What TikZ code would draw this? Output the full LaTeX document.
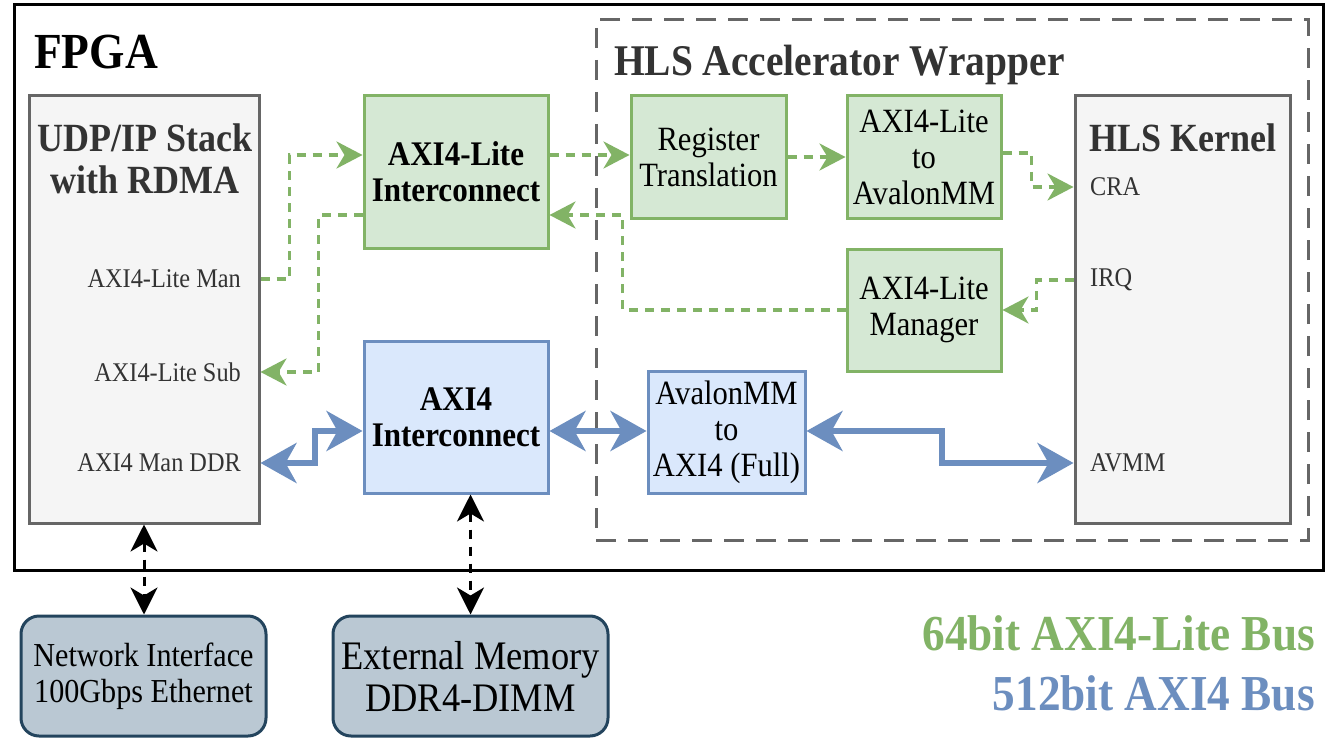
\documentclass[tikz,border=0pt]{standalone}
\usepackage{fontspec}
\setmainfont{Liberation Serif}[FakeStretch=0.9]
\usetikzlibrary{arrows.meta}
\definecolor{gfill}{HTML}{D5E8D4}
\definecolor{gdraw}{HTML}{82B366}
\definecolor{bfill}{HTML}{DAE8FC}
\definecolor{bdraw}{HTML}{6C8EBF}
\definecolor{sfill}{HTML}{F5F5F5}
\definecolor{sdraw}{HTML}{666666}
\definecolor{nfill}{HTML}{BAC8D3}
\definecolor{ndraw}{HTML}{23445D}
\definecolor{txtgray}{HTML}{333333}
\tikzset{
  box/.style={rectangle, inner sep=0pt, line width=3pt},
  greenbox/.style={box, fill=gfill, draw=gdraw, align=center, font=\fontsize{34}{36}\selectfont},
  bluebox/.style={box, fill=bfill, draw=bdraw, align=center, font=\fontsize{34}{36}\selectfont},
  graybox/.style={box, fill=sfill, draw=sdraw},
  extbox/.style={box, fill=nfill, draw=ndraw, rounded corners=18pt, align=center},
  portlbl/.style={inner sep=0pt, text=txtgray, font=\fontsize{27}{30}\selectfont},
  titlelbl/.style={inner sep=0pt, text=txtgray, align=center, font=\bfseries\fontsize{40}{42}\selectfont},
  gline/.style={draw=gdraw, line width=3.5pt, dash pattern=on 9pt off 7pt, -{Stealth[length=26pt,width=27pt,inset=8pt]}},
  bline/.style={draw=bdraw, line width=6pt, {Stealth[length=36pt,width=40pt,inset=11pt]}-{Stealth[length=36pt,width=40pt,inset=11pt]}},
  kline/.style={draw=black, line width=3pt, dash pattern=on 9pt off 8pt, {Stealth[length=27pt,width=27pt,inset=8pt]}-{Stealth[length=27pt,width=27pt,inset=8pt]}},
}
\begin{document}
\begin{tikzpicture}[x=1pt,y=-1pt]
\useasboundingbox (0,0) rectangle (1327,738);
\fill[white] (0,0) rectangle (1327,738);
% containers
\node[box, draw=black, minimum width=1309pt, minimum height=565pt] (fpga) at (668.5,287.5) {};
\node[box, draw=sdraw, dash pattern=on 20pt off 12pt, minimum width=712pt, minimum height=520pt] (wrap) at (952,280) {};
\node[anchor=west, inner sep=0pt, font=\bfseries\fontsize{50.5}{52}\selectfont] (fpgalbl) at (34,52) {FPGA};
\node[anchor=west, inner sep=0pt, text=txtgray, font=\bfseries\fontsize{43.8}{46}\selectfont] (wraplbl) at (614,65) {HLS Accelerator Wrapper};
% big gray blocks
\node[graybox, minimum width=230pt, minimum height=427pt] (udp) at (144,309.5) {};
\node[titlelbl] (udptitle) at (145,159) {UDP/IP Stack\\with RDMA};
\node[portlbl, anchor=east] (lman) at (241,279) {AXI4-Lite Man};
\node[portlbl, anchor=east] (lsub) at (241,372) {AXI4-Lite Sub};
\node[portlbl, anchor=east] (lddr) at (241,463) {AXI4 Man DDR};
\node[graybox, minimum width=215pt, minimum height=427pt] (kernel) at (1182.5,309.5) {};
\node[titlelbl] (kertitle) at (1183,138) {HLS Kernel};
\node[portlbl, anchor=west] (lcra) at (1090,187) {CRA};
\node[portlbl, anchor=west] (lirq) at (1090,280) {IRQ};
\node[portlbl, anchor=west] (lavmm) at (1090,463) {AVMM};
% green blocks
\node[greenbox, minimum width=184pt, minimum height=152pt, font=\bfseries\fontsize{34.5}{36}\selectfont] (alic) at (456,172) {AXI4-Lite\\Interconnect};
\node[greenbox, minimum width=155pt, minimum height=122pt] (regt) at (708.5,157) {Register\\Translation};
\node[greenbox, minimum width=154pt, minimum height=122pt] (a2a) at (924,157) {AXI4-Lite\\to\\AvalonMM};
\node[greenbox, minimum width=154pt, minimum height=122pt] (mgr) at (924,310) {AXI4-Lite\\Manager};
% blue blocks
\node[bluebox, minimum width=184pt, minimum height=152pt, font=\bfseries\fontsize{34.5}{36}\selectfont] (axic) at (456,417) {AXI4\\Interconnect};
\node[bluebox, minimum width=157pt, minimum height=122pt] (av2axi) at (726.5,432) {AvalonMM\\to\\AXI4 (Full)};
% external
\node[extbox, minimum width=245pt, minimum height=120pt, font=\fontsize{33.5}{36}\selectfont] (net) at (143.5,676) {Network Interface\\100Gbps Ethernet};
\node[extbox, minimum width=275pt, minimum height=120pt, font=\fontsize{40.5}{42}\selectfont] (mem) at (470.5,676) {External Memory\\DDR4-DIMM};
% legend
\node[anchor=east, inner sep=0pt, text=gdraw, font=\bfseries\fontsize{50.3}{52}\selectfont] (leg1) at (1315,633) {64bit AXI4-Lite Bus};
\node[anchor=east, inner sep=0pt, text=bdraw, font=\bfseries\fontsize{50.3}{52}\selectfont] (leg2) at (1315,693) {512bit AXI4 Bus};
% green connectors
\draw[gline] (udp.east |- lman) -- ++(29,0) |- (alic.west |- 0,155);
\draw[gline] (alic.west |- 0,215) -- ++(-44,0) |- (udp.east |- lsub);
\draw[gline] (alic.east |- 0,155) -- (regt.west |- 0,155);
\draw[gline] (regt.east) -- (a2a.west);
\draw[gline] (a2a.east |- 0,153) -- ++(29,0) |- (kernel.west |- lcra);
\draw[gline] (kernel.west |- lirq) -- ++(-37,0) |- (mgr.east);
\draw[gline] (mgr.west) -- ++(-223,0) |- (alic.east |- 0,215);
% blue connectors
\draw[bline] (udp.east |- lddr) -- ++(54,0) |- (axic.west |- 0,431);
\draw[bline] (axic.east |- 0,431) -- (av2axi.west |- 0,431);
\draw[bline] (av2axi.east |- 0,431) -- ++(135,0) |- (kernel.west |- lavmm);
% black connectors
\draw[kline] (udp.south) -- (udp.south |- net.north);
\draw[kline] (mem.north |- axic.south) -- (mem.north);
\end{tikzpicture}
\end{document}
